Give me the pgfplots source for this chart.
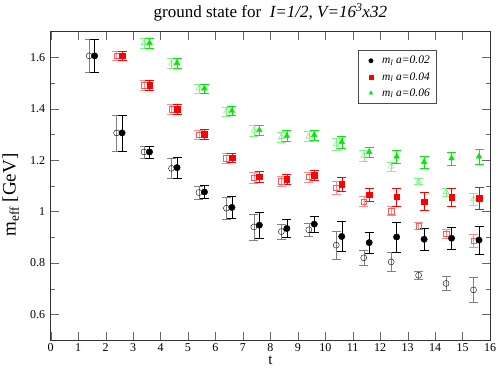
\documentclass[border=0pt]{standalone}
\usepackage{pgfplots}
\pgfplotsset{compat=1.18}
\usepackage{pgfplotstable}
\usepackage{fontspec}
\setmainfont{Liberation Serif}

% filled symbols sit at t+0.6, open ones at t+0.4
\pgfplotstableread{
x y e
1.6 1.606 0.064
2.6 1.306 0.070
3.6 1.232 0.024
4.6 1.171 0.040
5.6 1.076 0.025
6.6 1.016 0.043
7.6 0.947 0.050
8.6 0.934 0.035
9.6 0.951 0.030
10.6 0.903 0.058
11.6 0.879 0.042
12.6 0.901 0.058
13.6 0.892 0.042
14.6 0.896 0.042
15.6 0.889 0.055
}\blackfull
\pgfplotstableread{
x y e
1.4 1.606 0.064
2.4 1.306 0.070
3.4 1.232 0.024
4.4 1.168 0.040
5.4 1.074 0.025
6.4 1.013 0.043
7.4 0.940 0.050
8.4 0.922 0.030
9.4 0.929 0.025
10.4 0.869 0.053
11.4 0.820 0.030
12.4 0.804 0.038
13.4 0.752 0.017
14.4 0.720 0.028
15.4 0.695 0.048
}\blackopen
\pgfplotstableread{
x y e
2.6 1.606 0.018
3.6 1.492 0.018
4.6 1.399 0.020
5.6 1.301 0.018
6.6 1.210 0.018
7.6 1.136 0.022
8.6 1.126 0.020
9.6 1.141 0.020
10.6 1.106 0.028
11.6 1.065 0.024
12.6 1.057 0.035
13.6 1.039 0.035
14.6 1.055 0.035
15.6 1.052 0.041
}\redfull
\pgfplotstableread{
x y e
2.4 1.606 0.018
3.4 1.492 0.018
4.4 1.399 0.020
5.4 1.299 0.018
6.4 1.208 0.018
7.4 1.132 0.022
8.4 1.119 0.020
9.4 1.135 0.020
10.4 1.093 0.025
11.4 1.039 0.020
12.4 1.002 0.017
13.4 0.944 0.013
14.4 0.914 0.018
15.4 0.886 0.025
}\redopen
\pgfplotstableread{
x y e
3.6 1.656 0.020
4.6 1.578 0.020
5.6 1.479 0.018
6.6 1.392 0.018
7.6 1.317 0.020
8.6 1.295 0.020
9.6 1.298 0.020
10.6 1.271 0.023
11.6 1.232 0.020
12.6 1.214 0.024
13.6 1.193 0.023
14.6 1.207 0.025
15.6 1.214 0.028
}\greenfull
\pgfplotstableread{
x y e
3.4 1.656 0.020
4.4 1.576 0.020
5.4 1.479 0.018
6.4 1.390 0.018
7.4 1.315 0.020
8.4 1.290 0.020
9.4 1.292 0.020
10.4 1.262 0.023
11.4 1.217 0.020
12.4 1.175 0.018
13.4 1.117 0.012
14.4 1.076 0.016
15.4 1.048 0.023
}\greenopen

\definecolor{mygreen}{RGB}{0,235,0}

\begin{document}
\begin{tikzpicture}
\begin{axis}[
    scale only axis,
    width=439.3pt, height=308.3pt,
    xmin=0, xmax=16, ymin=0.5, ymax=1.7,
    xtick={0,1,2,3,4,5,6,7,8,9,10,11,12,13,14,15,16},
    ytick={0.6,0.8,1.0,1.2,1.4,1.6},
    minor y tick num=1,
    major tick length=8pt, minor tick length=4pt,
    axis line style={black!80},
    tick style={black!60},
    tick label style={font=\fontsize{12}{14}\selectfont},
    yticklabel style={xshift=-2pt},
    /pgf/number format/assume math mode=true,
    xlabel={t},
    ylabel={m\textsubscript{eff} [GeV]},
    xlabel style={font=\fontsize{15}{17}\selectfont,
        at={(axis description cs:0.5,0)}, anchor=base, yshift=-25pt},
    ylabel style={font=\fontsize{19}{21}\selectfont,
        at={(axis description cs:-0.080,0.47)}, anchor=base},
    title={ground state for\ \ \textit{I=1/2, V=16\textsuperscript{3}x32}},
    title style={font=\fontsize{17}{19}\selectfont,
        at={(axis description cs:0.5,1)}, anchor=base, yshift=8pt},
    legend style={at={(0.6995,0.9406)}, anchor=north west,
        font=\fontsize{11.5}{13}\selectfont\itshape, draw=black!70,
        row sep=3pt, inner xsep=4pt, inner ysep=4pt},
    legend image code/.code={
        \path (0cm,0cm) (0.62cm,0cm);
        \draw[mark size=2.2pt,#1] plot coordinates {(0.3cm,0cm)};
    },
    legend cell align=left,
    error bars/y dir=both,
    error bars/y explicit,
]

% open symbols first, kept out of the legend
\addplot[only marks, mark=o, mark size=3pt, black, forget plot,
    error bars/error bar style={black!50},
    error bars/error mark options={rotate=90, mark size=4.5pt, black!50}]
    table[x=x, y=y, y error=e] {\blackopen};
\addplot[only marks, mark=square, mark size=2.8pt, red!65, forget plot,
    error bars/error bar style={red!45},
    error bars/error mark options={rotate=90, mark size=4.5pt, red!45}]
    table[x=x, y=y, y error=e] {\redopen};
\addplot[only marks, mark=triangle, mark size=3.3pt, mygreen!65, forget plot,
    error bars/error bar style={mygreen!50},
    error bars/error mark options={rotate=90, mark size=4.5pt, mygreen!50}]
    table[x=x, y=y, y error=e] {\greenopen};

\addplot[only marks, mark=*, mark size=3.2pt, black,
    error bars/error bar style={black},
    error bars/error mark options={rotate=90, mark size=4.5pt, black}]
    table[x=x, y=y, y error=e] {\blackfull};
\addlegendentry{m\textsubscript{l} a=0.02}
\addplot[only marks, mark=square*, mark size=2.8pt, red,
    error bars/error bar style={red},
    error bars/error mark options={rotate=90, mark size=4.5pt, red}]
    table[x=x, y=y, y error=e] {\redfull};
\addlegendentry{m\textsubscript{l} a=0.04}
\addplot[only marks, mark=triangle*, mark size=3.3pt, mygreen,
    error bars/error bar style={mygreen},
    error bars/error mark options={rotate=90, mark size=4.5pt, mygreen}]
    table[x=x, y=y, y error=e] {\greenfull};
\addlegendentry{m\textsubscript{l} a=0.06}

\end{axis}
\pgfresetboundingbox
\path (current axis.south west) ++(-50.7pt,-29pt)
    rectangle ([shift={(8pt,31.7pt)}]current axis.north east);
\end{tikzpicture}
\end{document}
